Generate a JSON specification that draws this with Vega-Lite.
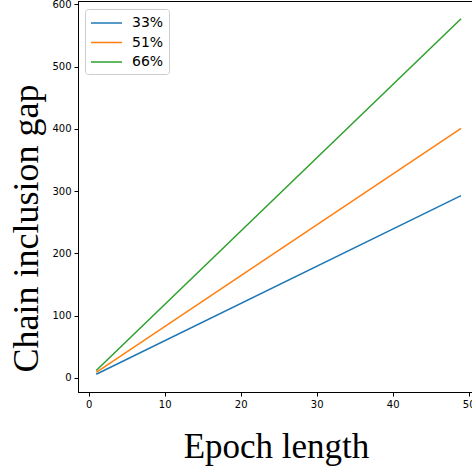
{
  "$schema": "https://vega.github.io/schema/vega-lite/v6.json",
  "width": 394,
  "height": 391,
  "autosize": {"type": "none"},
  "padding": {"left": 78, "top": 1, "right": 0, "bottom": 78},
  "background": "white",
  "config": {"view": {"stroke": "black", "strokeWidth": 1}, "font": "DejaVu Sans"},
  "data": {
    "values": [
      {"epoch": 1, "gap": 6, "share": "33%"},
      {"epoch": 49, "gap": 293, "share": "33%"},
      {"epoch": 1, "gap": 9, "share": "51%"},
      {"epoch": 49, "gap": 401, "share": "51%"},
      {"epoch": 1, "gap": 12, "share": "66%"},
      {"epoch": 49, "gap": 577, "share": "66%"}
    ]
  },
  "mark": {"type": "line", "strokeWidth": 1.5},
  "encoding": {
    "x": {
      "field": "epoch", "type": "quantitative",
      "scale": {"domain": [-1.4, 50.44], "nice": false, "zero": false},
      "axis": {
        "values": [0, 10, 20, 30, 40, 50],
        "format": "d",
        "grid": false,
        "title": "Epoch length",
        "titleFont": "Liberation Serif",
        "titleFontSize": 35,
        "titleFontWeight": "normal",
        "titleColor": "black",
        "titleX": 198,
        "titleY": 65,
        "titleAlign": "center",
        "titleBaseline": "alphabetic",
        "labelFontSize": 10,
        "labelColor": "black",
        "labelFlush": false,
        "labelPadding": 3,
        "domainColor": "black",
        "tickColor": "black",
        "tickSize": 4
      }
    },
    "y": {
      "field": "gap", "type": "quantitative",
      "scale": {"domain": [-22.5, 605.5], "nice": false, "zero": false},
      "axis": {
        "values": [0, 100, 200, 300, 400, 500, 600],
        "format": "d",
        "grid": false,
        "title": "Chain inclusion gap",
        "titleFont": "Liberation Serif",
        "titleFontSize": 36,
        "titleFontWeight": "normal",
        "titleColor": "black",
        "titleAngle": -90,
        "titleX": -41,
        "titleY": 227,
        "titleAlign": "center",
        "titleBaseline": "alphabetic",
        "labelFontSize": 10,
        "labelColor": "black",
        "labelFlush": false,
        "labelPadding": 3,
        "domainColor": "black",
        "tickColor": "black",
        "tickSize": 4
      }
    },
    "color": {
      "field": "share", "type": "nominal",
      "scale": {"domain": ["33%", "51%", "66%"], "range": ["#1f77b4", "#ff7f0e", "#2ca02c"]},
      "legend": {
        "title": null,
        "orient": "none",
        "legendX": 7,
        "legendY": 8,
        "padding": 5,
        "strokeColor": "#cccccc",
        "fillColor": "white",
        "cornerRadius": 3,
        "symbolType": "M-1,0H2.875",
        "symbolSize": 256,
        "symbolStrokeWidth": 1.5,
        "labelFontSize": 14,
        "labelColor": "black",
        "labelOffset": 24,
        "rowPadding": 3.5
      }
    }
  }
}
